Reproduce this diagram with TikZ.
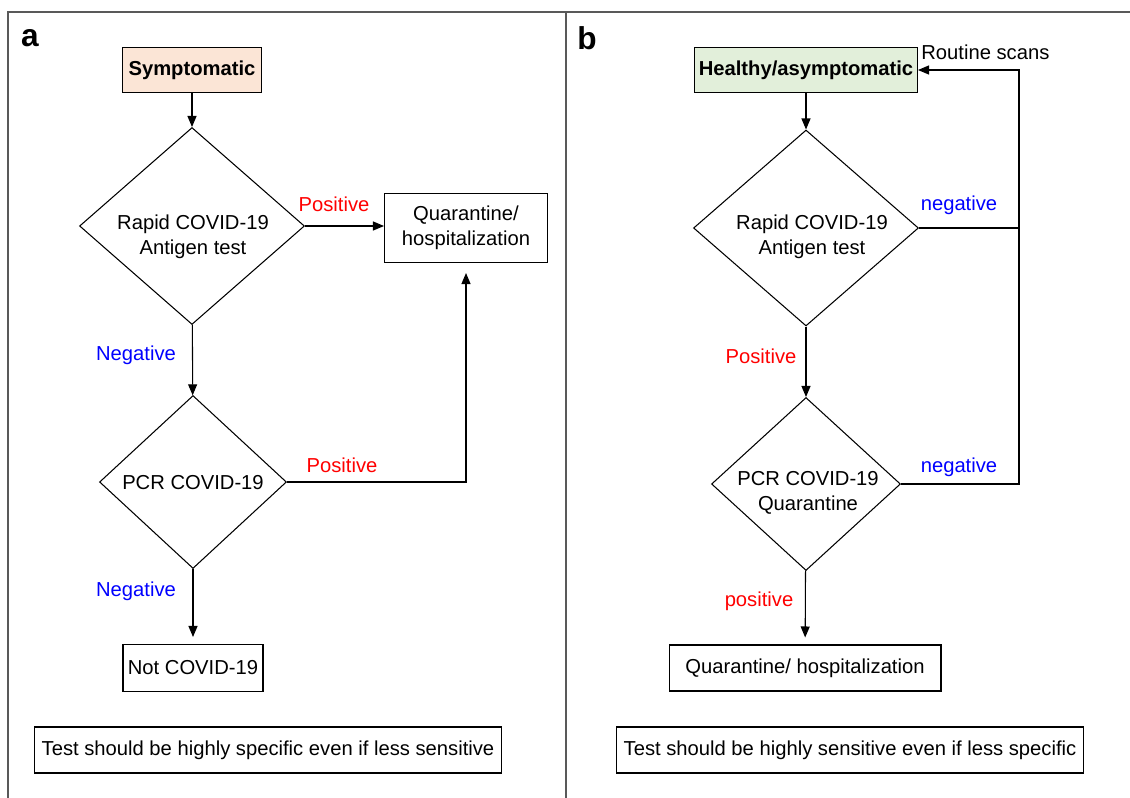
\documentclass[tikz,border=0pt]{standalone}
\usepackage{fontspec}
\setmainfont{Liberation Sans}
\usetikzlibrary{shapes.geometric,arrows.meta}
\definecolor{peach}{HTML}{FBE5D6}
\definecolor{mint}{HTML}{E2EFDA}
\begin{document}
\begin{tikzpicture}[
    x=0.02cm, y=-0.02cm, line width=0.6pt, >={Triangle[length=2.2mm,width=1.8mm]},
    box/.style={rectangle, draw, inner sep=0pt, align=center, font=\fontsize{11.5}{14}\selectfont},
    start/.style={box, font=\fontsize{11.5}{14}\selectfont\bfseries},
    test/.style={diamond, draw, inner sep=0pt},
    testtext/.style={align=center, inner sep=0pt, font=\fontsize{11.5}{14.2}\selectfont},
    poslbl/.style={text=red, font=\fontsize{11.5}{14}\selectfont},
    neglbl/.style={text=blue, font=\fontsize{11.5}{14}\selectfont},
    panel/.style={font=\fontsize{18}{20}\selectfont\bfseries}
]
    \useasboundingbox (0,0) rectangle (1130,798);
    \draw[gray!70!black, line width=1pt] (8,798) -- (8,12) -- (1130,12);
    \draw[gray!70!black, line width=0.8pt] (566,12) -- (566,798);

    % panel a
    \node[panel] (lbla) at (30,38) {a};
    \node[start, fill=peach, minimum width=2.78cm, minimum height=0.9cm] (sym) at (192,70) {Symptomatic};
    \node[test, minimum width=4.5cm, minimum height=3.94cm] (rapa) at (192,226) {};
    \node[testtext] (rapatext) at (193,237) {Rapid COVID-19\\Antigen test};
    \node[box, minimum width=3.26cm, minimum height=1.38cm] (quara) at (466,228) {Quarantine/\\hospitalization};
    \node[test, minimum width=3.74cm, minimum height=3.46cm] (pcra) at (193,482) {};
    \node[testtext] (pcratext) at (193,483) {PCR COVID-19};
    \node[box, minimum width=2.8cm, minimum height=0.94cm] (notc) at (193,668) {Not COVID-19};
    \node[box, minimum width=9.36cm, minimum height=0.92cm] (specific) at (268,750) {Test should be highly specific even if less sensitive};

    \draw[->] (sym) -- (rapa);
    \draw[->] (rapa.east) -- (rapa.east -| quara.west);
    \draw[->] (rapa) -- (pcra);
    \draw[->, shorten >=0.2cm] (pcra.east) -| (quara.south);
    \draw[->, shorten >=0.14cm] (pcra) -- (notc);
    \node[poslbl] (pa1) at (334,204) {Positive};
    \node[neglbl] (na1) at (136,355) {Negative};
    \node[poslbl] (pa2) at (342,465) {Positive};
    \node[neglbl] (na2) at (136,591) {Negative};

    % panel b
    \node[panel] (lblb) at (587,38) {b};
    \node[start, fill=mint, minimum width=4.46cm, minimum height=0.9cm] (healthy) at (806,70) {Healthy/asymptomatic};
    \node[test, minimum width=4.5cm, minimum height=3.92cm] (rapb) at (806,228) {};
    \node[testtext] (rapbtext) at (812,237) {Rapid COVID-19\\Antigen test};
    \node[test, minimum width=3.78cm, minimum height=3.46cm] (pcrb) at (806,484) {};
    \node[testtext] (pcrbtext) at (808,493) {PCR COVID-19\\Quarantine};
    \node[box, minimum width=5.44cm, minimum height=0.92cm] (quarb) at (805,668) {Quarantine/ hospitalization};
    \node[box, minimum width=9.34cm, minimum height=0.92cm] (sensitive) at (850,750) {Test should be highly sensitive even if less specific};
    \coordinate (scan) at (1019,70);

    \draw[->] (healthy) -- (rapb);
    \draw[->] (rapb) -- (pcrb);
    \draw[->, shorten >=0.14cm] (pcrb) -- (quarb);
    \draw (rapb.east) -- (rapb.east -| scan);
    \draw[->] (pcrb.east) -| (scan) -- (healthy.east);
    \node[font=\fontsize{11.5}{14}\selectfont, anchor=west] (routine) at (915,52) {Routine scans};
    \node[neglbl] (nb1) at (959,205) {negative};
    \node[poslbl] (pb1) at (761,356) {Positive};
    \node[neglbl] (nb2) at (959,467) {negative};
    \node[poslbl] (pb2) at (759,601) {positive};
\end{tikzpicture}
\end{document}
